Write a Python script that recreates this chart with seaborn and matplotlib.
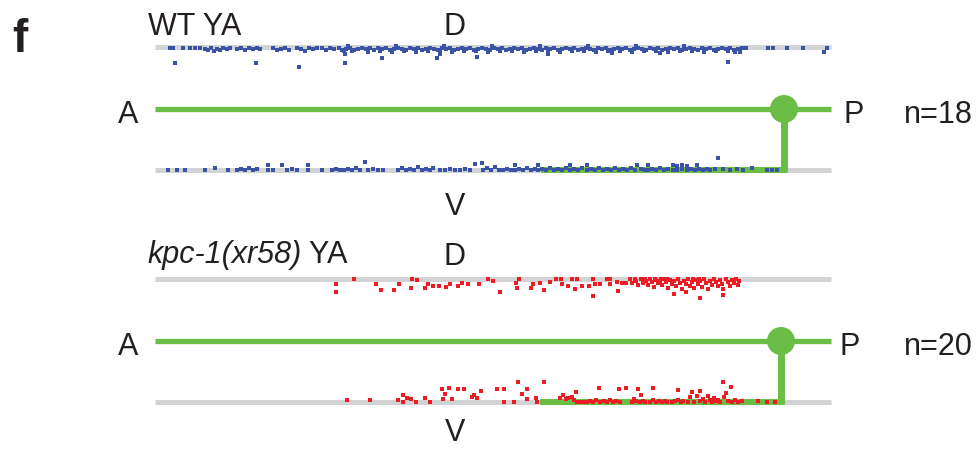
import matplotlib
matplotlib.use("Agg")
import matplotlib.pyplot as plt
from matplotlib.patches import Circle
import pandas as pd
import seaborn as sns

# ---- data: (A-P position, offset from dorsal/ventral cord) ----
wt_dorsal = [
    (170,1),(173,1),(183,1),(190,1),(195,1),(200,1),
    (205,2),(208,3),(211,1),(214,4),(217,2),(220,3),(223,1),(227,2),(230,1),
    (237,2),(241,1),(245,3),(249,1),(253,2),(257,1),(260,2),
    (273,1),(277,3),(281,2),(285,1),(289,3),
    (297,1),(301,2),(305,4),(309,1),(313,2),(317,1),
    (322,1),(326,3),(330,1),(334,2),
    (339,1),(342,3),(346,2),(350,1),(354,3),(358,2),(362,1),(366,2),(370,1),(374,3),(378,1),(382,2),
    (386,1),(390,3),(394,2),(398,1),(402,2),(406,3),(410,1),(414,2),(418,1),(422,3),(426,2),(430,1),
    (434,2),(438,3),(442,1),(446,2),(450,1),(454,3),(458,2),(462,1),(466,2),(470,1),(474,3),(478,2),
    (482,1),(486,2),(490,3),(494,1),(498,2),(502,1),(506,3),(510,2),(514,1),(518,2),(522,1),(526,3),
    (530,2),(534,1),(538,2),(542,3),(546,1),(550,2),(554,1),(558,3),(562,2),(566,1),(570,2),(574,1),
    (578,3),(582,2),(586,1),(590,2),(594,3),(598,1),(602,2),(606,1),(610,3),(614,2),(618,1),(622,2),
    (626,1),(630,3),(634,2),(638,1),(642,2),(646,3),(650,1),(654,2),(658,1),(662,3),(666,2),(670,1),
    (674,2),(678,1),(682,3),(686,2),(690,1),(694,2),(698,3),(702,1),(706,2),(710,1),(714,3),(718,2),
    (722,1),(726,2),(730,1),(734,3),(738,2),(742,1),
    (344,4),(352,4),(368,5),(380,4),(392,5),(404,4),(416,5),(428,4),(440,4),(452,5),(464,4),(476,4),
    (488,5),(500,4),(512,4),(524,5),(536,4),(548,4),(560,5),(572,4),(584,4),(596,5),(608,4),(620,4),
    (632,5),(644,4),(656,4),(668,5),(680,4),(692,4),(704,5),(716,4),(728,4),(740,5),
    (348,-1),(396,-1),(444,-1),(492,-1),(540,-1),(588,-1),(636,-1),(684,-1),
    (175,16),(256,16),(299,20),(345,7),(345,16),(382,11),(437,11),(440,7),(477,10),(548,7),
    (728,15),(735,5),(612,6),(660,6),
    (746,1),(768,1),(773,1),(787,1),(803,1),(827,1),(824,5),
]

wt_ventral = [
    (168,0),(177,0),(185,0),(205,0),(215,-2),(228,0),
    (237,0),(241,-1),(245,0),(249,-2),(253,0),(257,-1),
    (268,-5),(268,0),(273,0),(282,-5),(287,0),(292,-1),(297,0),(308,-5),(308,0),(322,0),
    (332,0),(336,-1),(340,0),(344,0),(348,-1),(352,0),(356,-2),(360,0),(365,-8),(368,0),(373,-1),
    (378,0),(383,0),
    (398,0),(402,-2),(406,0),(410,-1),(414,0),(418,-3),(422,0),(426,-1),(430,0),(433,-2),
    (440,0),(445,0),(450,-1),(455,0),(460,0),(465,-1),(470,0),(475,-6),(482,-7),
    (483,0),(487,-2),(491,0),(495,-3),(499,0),
    (503,0),(507,-1),(511,0),(515,-5),(515,0),(519,-1),(523,0),(527,-2),(531,0),(535,-1),(538,-5),
    (538,0),(542,-1),(546,0),(550,-2),(554,0),(558,-1),(562,0),(566,-2),(570,-5),(570,0),(574,-1),
    (578,0),(582,-2),(587,-5),(587,0),(591,-1),(595,0),(599,-2),(603,0),(607,-1),(611,0),(615,-2),
    (619,0),(623,-1),(627,0),(631,-2),(635,0),(637,-5),(641,-1),(645,0),(648,-5),(648,0),(652,-1),
    (656,0),(660,-2),(664,0),(668,-1),(673,-5),(673,0),(677,-4),(677,0),(682,-5),(682,-1),(687,-4),
    (687,0),(691,-1),(695,0),(697,-5),(699,-1),(703,0),(707,-1),(710,0),(718,-12),
    (715,-1),(723,-1),(730,0),(737,-1),(743,0),(752,-2),(767,0),(772,0),(777,0),
]

mut_dorsal = [
    (336,5),(336,13),(354,0),(376,5),(381,11),(394,11),(399,5),(411,9),(412,0),(417,1),(425,9),
    (428,5),(433,7),(439,7),(446,8),(450,5),(458,7),(462,4),(468,5),(479,5),(488,0),(493,2),
    (500,13),(516,4),(517,9),(519,0),(531,9),(533,5),(540,4),(544,11),(550,3),(556,0),(561,0),
    (562,5),(568,7),(572,0),(575,10),(577,0),(582,7),(589,7),(593,0),(593,17),(595,5),(600,5),
    (607,0),(610,0),(610,5),(617,3),(618,12),(622,4),(626,4),(630,0),(635,0),
    (632,4),(636,2),(638,6),(641,0),(643,4),(646,2),(648,6),(650,0),(652,3),(654,8),(656,1),
    (658,4),(660,2),(662,6),(664,0),(666,3),(668,9),(670,1),(672,5),(674,15),(674,2),(676,7),
    (678,0),(680,4),(682,10),(684,2),(686,13),(686,5),(688,0),(690,7),(692,3),(694,9),(696,1),
    (698,5),(700,19),(700,2),(702,8),(704,0),(706,4),(708,10),(710,2),(712,6),(714,0),(716,3),
    (718,7),(720,1),(722,5),(723,16),(723,10),(726,0),(728,3),(730,7),(732,1),(734,4),(736,0),
    (738,6),(739,2),(645,0),(655,0),(661,0),(667,0),(693,0),(699,0),
]

mut_ventral = [
    (347,-2),(370,-2),(398,-2),(403,-7),(403,0),(407,-4),(411,-3),(416,0),(425,-4),(430,0),
    (442,-13),(445,-8),(443,-3),(449,-14),(452,-3),(458,-13),(464,-13),(472,-5),(474,-7),(477,-4),
    (481,-11),(497,-13),(504,-13),(504,0),(514,0),(518,-20),(522,-8),(527,-13),(527,-3),(536,-4),
    (537,0),(544,-20),
    (560,-4),(563,-7),(566,-3),(568,-4),(572,-5),(574,-2),(576,-10),(577,0),(580,0),(584,0),
    (587,0),(590,-1),(593,0),(596,-2),(599,-14),(600,0),(604,-1),(607,0),(610,-2),(613,0),
    (616,-1),(619,-13),(620,0),(626,-14),(632,0),(634,-3),(636,-1),(638,-13),(640,0),(641,-7),
    (643,-1),(645,0),(650,0),(653,-14),(653,-2),(656,0),(659,-1),(662,0),(665,-1),(667,0),
    (672,0),(675,-1),(678,-12),(678,-2),(681,0),(683,-1),(688,0),(690,-5),(692,-10),(694,0),
    (697,-6),(700,-11),(700,-1),(703,-3),(705,0),(708,-6),(710,-2),(712,0),(714,-4),(716,-1),
    (718,-2),(720,0),(723,-20),(724,-5),(726,-9),(728,-1),(731,-15),(732,0),(735,-2),(738,0),
    (742,-1),(758,-1),(767,0),(775,0),
]

genotypes = ["WT YA", "kpc-1(xr58) YA"]
n_labels = ["n=18", "n=20"]

# ---- layout (pixel frame) ----
W, H = 976, 449
BLUE, RED = "#3a53a4", "#ed1c24"
GREEN, GRAY, TXT = "#6abd45", "#d1d3d4", "#231f20"
X0, X1 = 155, 831
panels = [
    dict(geno="WT", d=47, ap=109, v=170, ball_x=784, g0=541, dorsal=wt_dorsal, ventral=wt_ventral),
    dict(geno="kpc", d=279, ap=341, v=402, ball_x=781, g0=540, dorsal=mut_dorsal, ventral=mut_ventral),
]

rows = []
for p in panels:
    for band, pts, base in (("D", p["dorsal"], p["d"]), ("V", p["ventral"], p["v"])):
        for x, dy in pts:
            rows.append(dict(genotype=p["geno"], band=band, pos=x, y=base + dy))
df = pd.DataFrame(rows)

sns.set_theme(style="white")
plt.rcParams["font.family"] = ["Liberation Sans", "DejaVu Sans"]

fig = plt.figure(figsize=(W / 100, H / 100), dpi=100)
ax = fig.add_axes([0, 0, 1, 1])

for p in panels:
    for yy in (p["d"], p["v"]):
        ax.plot([X0, X1], [yy, yy], color=GRAY, lw=3.6, solid_capstyle="butt", zorder=1)
    ax.plot([X0, X1], [p["ap"], p["ap"]], color=GREEN, lw=3.8, solid_capstyle="butt", zorder=2)
    ax.plot([p["ball_x"], p["ball_x"]], [p["ap"], p["v"] + 2], color=GREEN, lw=5.0,
            solid_capstyle="butt", zorder=2)
    ax.plot([p["g0"], p["ball_x"] + 2.5], [p["v"], p["v"]], color=GREEN, lw=4.3,
            solid_capstyle="butt", zorder=2)
    ax.add_patch(Circle((p["ball_x"], p["ap"]), 14, color=GREEN, zorder=2, lw=0))

sns.scatterplot(data=df, x="pos", y="y", hue="genotype", palette={"WT": BLUE, "kpc": RED},
                marker="s", s=7.5, linewidth=0, legend=False, ax=ax, zorder=3)

ax.set_xlim(0, W)
ax.set_ylim(H, 0)
ax.set_axis_off()

fs = 22
ax.text(20, 52, "f", fontsize=33, fontweight="bold", ha="center", va="baseline", color=TXT)
ax.text(148, 35, genotypes[0], fontsize=fs, ha="left", va="baseline", color=TXT)
t1 = ax.text(147, 263, "kpc-1(xr58)", fontsize=fs, style="italic", ha="left", va="baseline", color=TXT)
ax.annotate(" " + genotypes[1].split(" ")[1], xy=(1, 0), xycoords=t1, fontsize=fs,
            ha="left", va="bottom", color=TXT)

for p, nl, pshift, vb, db in ((panels[0], n_labels[0], 844, 215, 35),
                              (panels[1], n_labels[1], 840, 441, 265)):
    base = p["ap"] + 14
    ax.text(455, db, "D", fontsize=fs, ha="center", va="baseline", color=TXT)
    ax.text(455, vb, "V", fontsize=fs, ha="center", va="baseline", color=TXT)
    ax.text(128, base, "A", fontsize=fs, ha="center", va="baseline", color=TXT)
    ax.text(pshift, base, "P", fontsize=fs, ha="left", va="baseline", color=TXT)
    ax.text(904, base, nl, fontsize=fs, ha="left", va="baseline", color=TXT)

fig.savefig("out.png", dpi=100)
